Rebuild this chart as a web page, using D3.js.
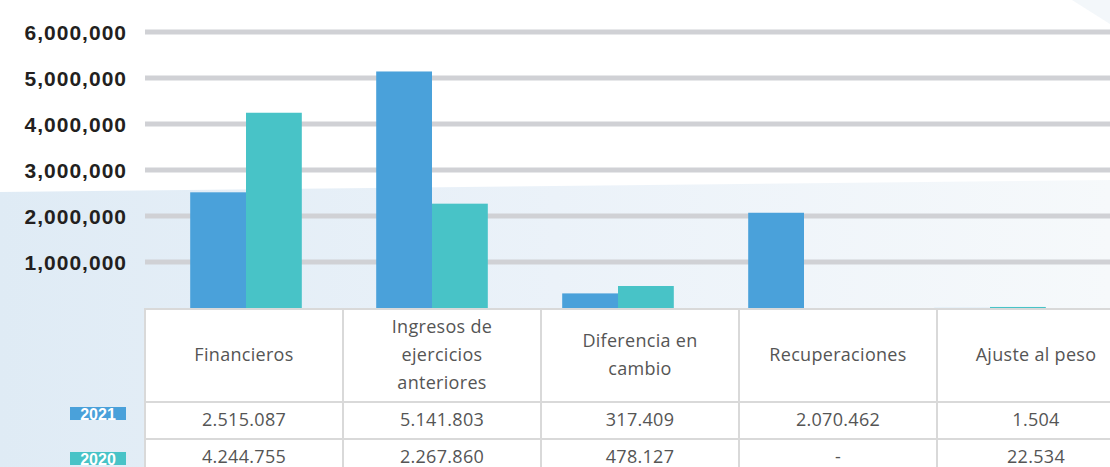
<!DOCTYPE html>
<html>
<head>
<meta charset="utf-8">
<script src="https://cdn.jsdelivr.net/npm/d3@7"></script>
<style>
  body { margin: 0; background: #fff; }
  svg { display: block; }
</style>
</head>
<body>
<div class="chart"></div>
<script>
var svgWidth = 1110;
var svgHeight = 467;

// data
var categories = ["Financieros", "Ingresos de ejercicios anteriores", "Diferencia en cambio", "Recuperaciones", "Ajuste al peso"];
var headerLines = [["Financieros"], ["Ingresos de", "ejercicios", "anteriores"], ["Diferencia en", "cambio"], ["Recuperaciones"], ["Ajuste al peso"]];
var years = ["2021", "2020"];
var values2021 = [2515087, 5141803, 317409, 2070462, 1504];
var values2020 = [4244755, 2267860, 478127, null, 22534];
var yTicks = [1000000, 2000000, 3000000, 4000000, 5000000, 6000000];

var colors = { "2021": "#4aa1da", "2020": "#48c3c7" };

var svg = d3.select(".chart")
  .append("svg")
  .attr("width", svgWidth)
  .attr("height", svgHeight);

// background shapes
var defs = svg.append("defs");
var grad = defs.append("linearGradient")
  .attr("id", "bgGrad")
  .attr("x1", "0%").attr("x2", "100%").attr("y1", "0%").attr("y2", "0%");
grad.append("stop").attr("offset", "0%").attr("stop-color", "#dfebf5");
grad.append("stop").attr("offset", "50%").attr("stop-color", "#ebf2f9");
grad.append("stop").attr("offset", "100%").attr("stop-color", "#f6f9fb");

svg.append("path")
  .attr("d", "M0,192 L1110,180 L1110,467 L0,467 Z")
  .attr("fill", "url(#bgGrad)");

svg.append("path")
  .attr("d", "M1072,0 L1110,0 L1110,24 Z")
  .attr("fill", "#f3f7fa");

// scales
var y = d3.scaleLinear()
  .domain([0, 6000000])
  .range([308, 32]);

var x0 = d3.scaleBand()
  .domain(categories)
  .range([153, 1083])
  .paddingInner(0.4)
  .paddingOuter(0.2);

var x1 = d3.scaleBand()
  .domain(years)
  .range([0, x0.bandwidth()]);

// gridlines
svg.append("g")
  .selectAll("line")
  .data(yTicks)
  .enter()
  .append("line")
  .attr("x1", 145)
  .attr("x2", svgWidth)
  .attr("y1", d => y(d))
  .attr("y2", d => y(d))
  .attr("stroke", "#d0d1d5")
  .attr("stroke-width", 5);

// y axis labels
var fmtAxis = d3.format(",");
svg.append("g")
  .selectAll("text")
  .data(yTicks)
  .enter()
  .append("text")
  .attr("x", 127)
  .attr("y", d => y(d))
  .attr("dy", "0.36em")
  .attr("text-anchor", "end")
  .style("font-family", "'Liberation Sans', Arial, sans-serif")
  .style("font-weight", "bold")
  .style("font-size", "21px")
  .style("letter-spacing", "1px")
  .style("fill", "#231f20")
  .text(d => fmtAxis(d));

// bars
var barData = [];
categories.forEach(function(c, i) {
  barData.push({ cat: c, year: "2021", value: values2021[i] });
  barData.push({ cat: c, year: "2020", value: values2020[i] });
});

svg.append("g")
  .selectAll("rect")
  .data(barData.filter(d => d.value !== null))
  .enter()
  .append("rect")
  .attr("x", d => x0(d.cat) + x1(d.year))
  .attr("y", d => y(d.value))
  .attr("width", x1.bandwidth())
  .attr("height", d => y(0) - y(d.value))
  .attr("fill", d => colors[d.year]);

// table under the chart
var colW = 198;
var colX = d3.scaleBand()
  .domain(categories)
  .range([145, 145 + colW * categories.length]);

var rowTop = [309, 402, 439];
var rowBottom = [402, 439, 478];

var table = svg.append("g");

rowTop.forEach(function(t, r) {
  table.selectAll(null)
    .data(categories)
    .enter()
    .append("rect")
    .attr("x", d => colX(d))
    .attr("y", t)
    .attr("width", colX.bandwidth())
    .attr("height", rowBottom[r] - t)
    .attr("fill", "#fff")
    .attr("stroke", "#d9d9d9")
    .attr("stroke-width", 2);
});

var textStyle = function(sel) {
  sel.attr("text-anchor", "middle")
    .style("font-family", "'Open Sans', sans-serif")
    .style("font-size", "18px")
    .style("letter-spacing", "0.3px")
    .style("fill", "#555555");
};

// header
categories.forEach(function(c, i) {
  var lines = headerLines[i];
  var lh = 28;
  var mid = 355;
  table.append("text")
    .call(textStyle)
    .selectAll("tspan")
    .data(lines)
    .enter()
    .append("tspan")
    .attr("x", colX(c) + colX.bandwidth() / 2)
    .attr("y", (d, k) => mid + (k - (lines.length - 1) / 2) * lh)
    .attr("dy", "0.35em")
    .text(d => d);
});

// values
var fmtVal = function(v) {
  if (v === null) return "-";
  return d3.format(",")(v).replace(/,/g, ".");
};

[values2021, values2020].forEach(function(vals, r) {
  table.selectAll(null)
    .data(categories)
    .enter()
    .append("text")
    .call(textStyle)
    .attr("x", d => colX(d) + colX.bandwidth() / 2)
    .attr("y", r === 0 ? 420 : 457)
    .attr("dy", "0.35em")
    .text((d, i) => fmtVal(vals[i]));
});

// year badges
var badgeY = [407, 452];
years.forEach(function(yr, i) {
  svg.append("rect")
    .attr("x", 70)
    .attr("y", badgeY[i])
    .attr("width", 56)
    .attr("height", 13)
    .attr("fill", colors[yr]);
  svg.append("text")
    .attr("x", 98)
    .attr("y", badgeY[i] + 13)
    .attr("text-anchor", "middle")
    .style("font-family", "'Liberation Sans', Arial, sans-serif")
    .style("font-weight", "bold")
    .style("font-size", "16px")
    .style("fill", "#fff")
    .text(yr);
});
</script>
</body>
</html>
